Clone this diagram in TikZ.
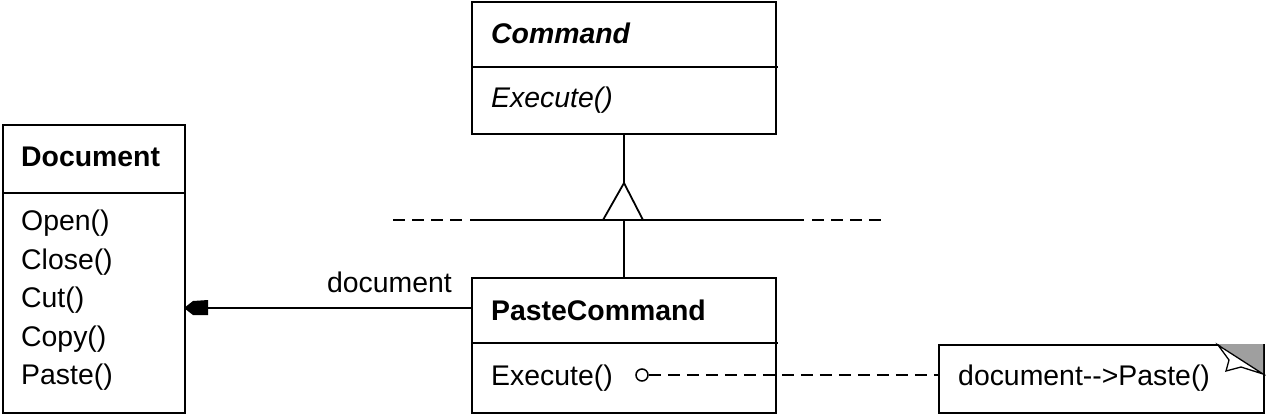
\documentclass[tikz,border=0pt]{standalone}
\usepackage{fontspec}
\setmainfont{Liberation Sans}
\usetikzlibrary{calc}
\begin{document}
\begin{tikzpicture}[x=1pt,y=-1pt,
  box/.style={draw,line width=1.8pt,anchor=north west,inner sep=0pt},
  txt/.style={anchor=west,inner sep=0pt,font=\fontsize{28.4}{32}\selectfont},
  ln/.style={line width=1.8pt},
  dsh/.style={line width=1.8pt,dash pattern=on 12pt off 7pt}]
\useasboundingbox (0,0) rectangle (1266,416);
% Command
\node[box,minimum width=304pt,minimum height=132pt] (cmd) at (471,1) {};
\draw[ln] (471,67) -- (778,67);
\node[txt,font=\fontsize{28.4}{32}\selectfont\bfseries\itshape] (cmdt) at (491,33) {Command};
\node[txt,font=\fontsize{28.4}{32}\selectfont\itshape] (cmde) at (491,100) {Execute()};
% Document
\node[box,minimum width=182pt,minimum height=288pt] (doc) at (2,124) {};
\draw[ln] (2,193) -- (184,193);
\node[txt,font=\fontsize{28.4}{32}\selectfont\bfseries] (doct) at (21,157) {Document};
\node[txt] (m1) at (21,223) {Open()};
\node[txt] (m2) at (21,262) {Close()};
\node[txt] (m3) at (21,300) {Cut()};
\node[txt] (m4) at (21,339) {Copy()};
\node[txt] (m5) at (21,377) {Paste()};
% PasteCommand
\node[box,minimum width=304pt,minimum height=135pt] (paste) at (471,277) {};
\draw[ln] (471,343) -- (778,343);
\node[txt,font=\fontsize{28.4}{32}\selectfont\bfseries] (pt) at (491,310) {PasteCommand};
\node[txt] (pe) at (491,378) {Execute()};
% Note
\node[box,minimum width=325pt,minimum height=68pt] (note) at (938,344) {};
\node[txt] (nt) at (958,378) {document-{}->Paste()};
\fill[gray!75] (1218,344) -- (1263,344) -- (1263,374) -- cycle;
\filldraw[fill=white,line width=1.3pt] (1218,345) -- (1229,360) -- (1226,371) -- (1241,367) -- (1263,374) -- cycle;
% inheritance
\coordinate (apex) at (624,183);
\coordinate (base) at (624,220);
\draw[ln] (cmd.south -| apex) -- (apex);
\draw[ln] (603,220) -- (apex) -- (643,220);
\draw[ln] (470,220) -- (804,220);
\draw[dsh] (393,220) -- (465,220);
\draw[dsh] (812,220) -- (886,220);
\draw[ln] (base) -- (paste.north -| base);
% association
\coordinate (a1) at (471,308);
\coordinate (a2) at (184,308);
\draw[ln] (a1) -- (a2);
\fill (a2) -- (193,301) -- (208,300) -- (208,315) -- (193,315) -- cycle;
\node[anchor=east,inner sep=0pt,font=\fontsize{28.4}{32}\selectfont] (lbl) at (452,282) {document};
% note link
\node[draw,circle,fill=white,line width=1.5pt,minimum size=12pt,inner sep=0pt] (c) at (642,375) {};
\draw[dsh] (c.east) -- (note.west |- c.east);
\end{tikzpicture}
\end{document}
